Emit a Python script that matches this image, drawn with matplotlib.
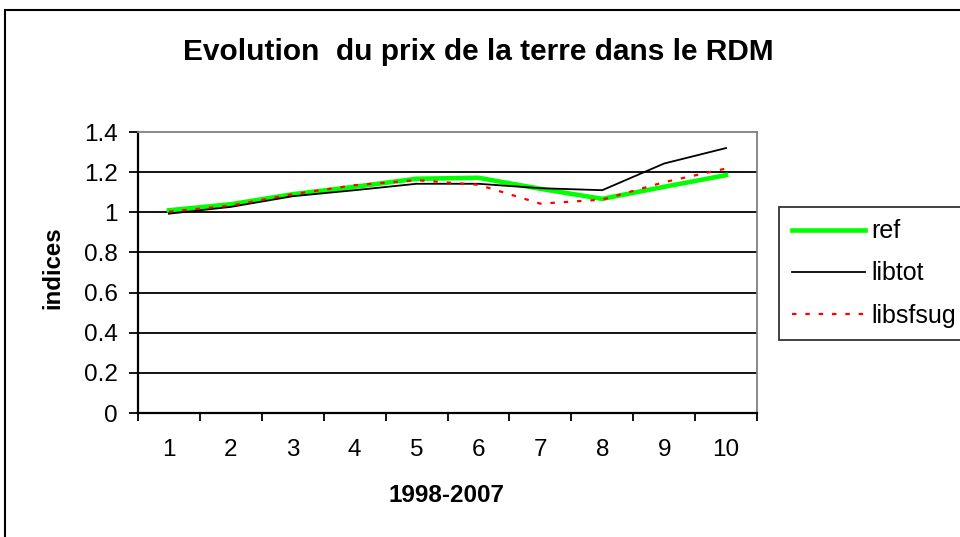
import matplotlib
matplotlib.use("Agg")
import matplotlib.pyplot as plt
from matplotlib.patches import Rectangle
import numpy as np

# data
years = [1, 2, 3, 4, 5, 6, 7, 8, 9, 10]
ref = [1.01, 1.04, 1.09, 1.127, 1.167, 1.172, 1.117, 1.067, 1.127, 1.185]
libtot = [0.993, 1.027, 1.08, 1.11, 1.142, 1.142, 1.12, 1.11, 1.243, 1.32]
libsfsug = [1.003, 1.033, 1.09, 1.135, 1.16, 1.137, 1.043, 1.063, 1.15, 1.218]

plt.rcParams['font.family'] = ['Liberation Sans', 'DejaVu Sans']

fig = plt.figure(figsize=(9.6, 5.37), dpi=100)

# outer chart frame (runs off the right and bottom edges)
W, H = 960, 537
fig.patches.append(Rectangle((5 / W, -0.1), 1.2, 1 - 10 / H + 0.1, transform=fig.transFigure,
                             fill=False, edgecolor='black', linewidth=1.5, zorder=0))

ax = fig.add_axes([138 / W, 1 - 413 / H, (757 - 138) / W, (413 - 132) / H])

x = np.arange(len(years))
ax.plot(x, ref, color='#00ff00', linewidth=3.3, label='ref', zorder=3)
ax.plot(x, libtot, color='black', linewidth=1.3, label='libtot', zorder=4)
ax.plot(x, libsfsug, color='red', linewidth=1.6, linestyle=(0, (2, 4)), label='libsfsug', zorder=5)

ax.set_xlim(-0.5, len(years) - 0.5)
ax.set_ylim(0, 1.4)
ax.set_yticks(np.arange(0, 1.41, 0.2))
ax.set_yticklabels(['0', '0.2', '0.4', '0.6', '0.8', '1', '1.2', '1.4'])
for yv in np.arange(0.2, 1.3, 0.2):
    ax.axhline(yv, color='black', linewidth=1.3, zorder=1)

# ticks sit between the categories, labels under each category
ax.set_xticks(np.arange(-0.5, len(years), 1.0))
ax.set_xticklabels([])
ax.set_xticks(x, minor=True)
ax.set_xticklabels([str(v) for v in years], minor=True)
ax.tick_params(axis='x', which='minor', length=0, pad=19, labelsize=17.5)
ax.tick_params(axis='x', which='major', length=6, width=1.3, direction='out')
ax.tick_params(axis='y', length=6.5, width=1.3, direction='out', labelsize=17.5, pad=8)

for s in ['top', 'right']:
    ax.spines[s].set_color('#808080')
    ax.spines[s].set_linewidth(1.3)
for s in ['left', 'bottom']:
    ax.spines[s].set_color('black')
    ax.spines[s].set_linewidth(1.6)

fig.text(478 / W, 1 - 52 / H, 'Evolution  du prix de la terre dans le RDM', ha='center', va='center',
         fontsize=21.5, fontweight='bold')
fig.text(53 / W, 1 - 268 / H, 'indices', rotation=90, ha='center', va='center',
         fontsize=17.3, fontweight='bold')
fig.text(447 / W, 1 - 496 / H, '1998-2007', ha='center', va='center',
         fontsize=17.5, fontweight='bold')

leg = fig.legend(loc='upper left', bbox_to_anchor=(779 / W, 1 - 207 / H), fontsize=18,
                 frameon=True, fancybox=False, edgecolor='black', handlelength=2.95,
                 handletextpad=0.25, labelspacing=0.72, borderpad=0.5, borderaxespad=0)
leg.get_frame().set_linewidth(1.3)

fig.savefig('out.png', dpi=100)
